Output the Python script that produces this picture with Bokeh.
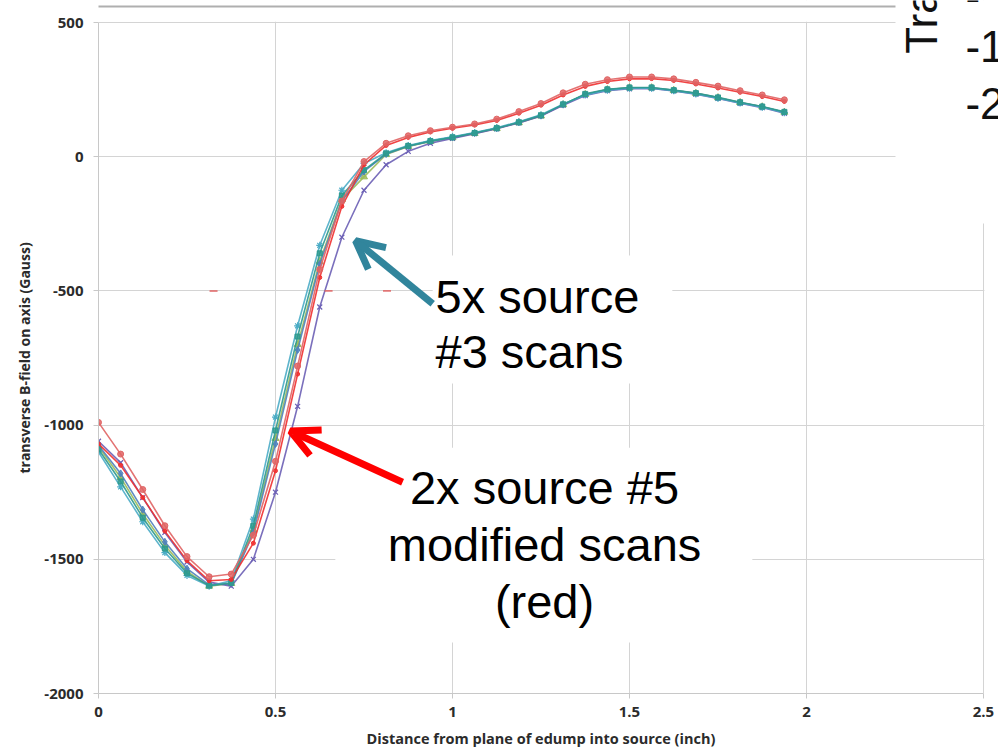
from bokeh.plotting import figure
from bokeh.models import Range1d, FixedTicker, Label, Arrow, OpenHead, BoxAnnotation
from bokeh.embed import file_html
from bokeh.resources import INLINE

# ---------------- data ----------------
x_pos = [0.0, 0.0625, 0.125, 0.1875, 0.25, 0.3125, 0.375, 0.4375,
         0.5, 0.5625, 0.625, 0.6875, 0.75, 0.8125, 0.875, 0.9375,
         1.0, 1.0625, 1.125, 1.1875, 1.25, 1.3125, 1.375, 1.4375,
         1.5, 1.5625, 1.625, 1.6875, 1.75, 1.8125, 1.875, 1.9375]

# source #3 scans (5x)
src3_scan_a = [-1100, -1230, -1360, -1475, -1560, -1600, -1580, -1350, -970, -630, -330, -125, -25, 15, 42, 60,
               74, 90, 108, 130, 156, 196, 230, 248, 255, 255, 246, 234, 218, 200, 184, 164]
src3_scan_b = [-1080, -1195, -1330, -1448, -1545, -1600, -1590, -1390, -1050, -700, -390, -160, -75, 8, 38, 57,
               71, 87, 105, 127, 152, 194, 232, 250, 257, 257, 247, 236, 220, 202, 186, 166]
src3_scan_c = [-1090, -1210, -1345, -1460, -1552, -1598, -1588, -1375, -1020, -670, -360, -145, -50, 12, 40, 58,
               72, 88, 106, 128, 154, 195, 234, 251, 258, 258, 248, 237, 221, 203, 187, 167]
src3_scan_d = [-1060, -1140, -1270, -1400, -1510, -1585, -1600, -1500, -1250, -930, -560, -300, -125, -30, 20, 50,
               68, 86, 104, 126, 152, 192, 228, 246, 253, 254, 245, 233, 217, 199, 183, 162]
src3_scan_e = [-1075, -1180, -1315, -1435, -1535, -1595, -1592, -1400, -1070, -720, -400, -165, -55, 10, 39, 58,
               72, 88, 106, 128, 153, 194, 232, 250, 257, 257, 247, 236, 220, 202, 186, 166]

# source #5 modified scans (2x, red)
src5_scan_a = [-990, -1108, -1240, -1375, -1490, -1565, -1555, -1410, -1135, -780, -420, -165, -18, 50, 78, 97,
               110, 122, 140, 168, 198, 238, 270, 287, 297, 297, 290, 277, 263, 246, 230, 212]
src5_scan_b = [-1070, -1150, -1270, -1395, -1505, -1580, -1575, -1440, -1170, -810, -450, -185, -30, 42, 72, 92,
               106, 118, 135, 162, 192, 230, 262, 280, 290, 291, 284, 271, 256, 240, 224, 206]

# stray points
stray_x = [0.325, 0.65, 0.815]
stray_y = [-500, -500, -500]

x_ticks = [0, 0.5, 1, 1.5, 2, 2.5]
x_tick_labels = ["0", "0.5", "1", "1.5", "2", "2.5"]
y_ticks = [-2000, -1500, -1000, -500, 0, 500]
y_tick_labels = ["-2000", "-1500", "-1000", "-500", "0", "500"]

# ---------------- figure ----------------
# frame spans to the canvas top/right so that the pasted-over elements can be drawn there
p = figure(width=998, height=755, x_range=Range1d(0, 2.5424), y_range=Range1d(-2000, 582),
           output_backend="svg", toolbar_location=None,
           min_border_left=98, min_border_right=0, min_border_top=0, min_border_bottom=62)
p.title.visible = False
p.outline_line_color = None
p.background_fill_color = "white"
p.border_fill_color = "white"

for ax in (p.xaxis[0], p.yaxis[0]):
    ax.axis_line_color = "#C8C8C8"
    ax.major_tick_line_color = "#C8C8C8"
    ax.major_tick_out = 5
    ax.major_tick_in = 0
    ax.minor_tick_line_color = None
    ax.major_label_text_font = "Open Sans"
    ax.major_label_text_font_style = "bold"
    ax.major_label_text_font_size = "15px"
    ax.major_label_text_color = "#2b2b2b"
    ax.axis_label_text_font = "Open Sans"
    ax.axis_label_text_font_style = "bold"
    ax.axis_label_text_font_size = "14px"
    ax.axis_label_text_color = "#2b2b2b"

p.xaxis.axis_label_text_font_size = "14.5px"
p.xaxis.bounds = (0, 2.5)
p.yaxis.bounds = (-2000, 500)
p.xaxis.ticker = FixedTicker(ticks=x_ticks)
p.yaxis.ticker = FixedTicker(ticks=y_ticks)
p.xaxis.major_label_overrides = {t: l for t, l in zip(x_ticks, x_tick_labels)}
p.yaxis.major_label_overrides = {t: l for t, l in zip(y_ticks, y_tick_labels)}
# trailing no-break spaces centre the titles on the chart's own plot area
p.xaxis.axis_label = "Distance from plane of edump into source (inch)" + "\u00a0" * 4
p.yaxis.axis_label = "transverse B-field on axis (Gauss)" + "\u00a0" * 6
p.xaxis.major_label_standoff = 8
p.yaxis.major_label_standoff = 10
p.xaxis.axis_label_standoff = 9
p.yaxis.axis_label_standoff = 7

p.xgrid.grid_line_color = "#D4D4D4"
p.ygrid.grid_line_color = "#D4D4D4"

# ---------------- series ----------------
series = [
    (src3_scan_b, "#9BBB59", "triangle", 7),
    (src3_scan_e, "#4F81BD", "diamond", 7),
    (src3_scan_d, "#6B5FB5", "x", 7),
    (src3_scan_a, "#4BACC6", "asterisk", 7),
    (src3_scan_c, "#2E9A8E", "square", 5),
    (src5_scan_b, "#F03030", "circle", 4),
    (src5_scan_a, "#E06464", "circle", 6),
]
for ys, col, mk, sz in series:
    p.line(x_pos, ys, line_color=col, line_width=1.6, line_alpha=0.9)
    if mk in ("x", "asterisk"):
        p.scatter(x_pos, ys, marker=mk, size=sz, line_color=col, line_width=1.2)
    else:
        p.scatter(x_pos, ys, marker=mk, size=sz, fill_color=col, line_color=col,
                  fill_alpha=0.85)

p.scatter(stray_x, stray_y, marker="dash", size=8, line_color="#E06464", line_width=1.5)

# ---------------- overlays ----------------
white = dict(fill_color="white", fill_alpha=1.0, line_color=None)
# hide grid beyond the chart's own plot area (above 500 and right of 2.5)
p.add_layout(BoxAnnotation(left=-0.1, right=2.7, top=700, bottom=503, **white))
p.add_layout(BoxAnnotation(left=2.5025, right=2.7, top=700, bottom=-2100, **white))
# white text boxes
p.add_layout(BoxAnnotation(left=0.944, right=1.621, top=-368, bottom=-845, **white))
p.add_layout(BoxAnnotation(left=0.669, right=1.847, top=-1084, bottom=-1810, **white))
# pasted-over element at top right
p.add_layout(BoxAnnotation(left=2.2514, right=2.7, top=700, bottom=-249, **white))

# chart-area top border
p.add_layout(BoxAnnotation(left=-0.1, right=2.2514, top=563, bottom=556,
                           fill_color="#AFAFAF", fill_alpha=1.0, line_color=None))

# arrows
p.add_layout(Arrow(end=OpenHead(size=28, line_color="#31859C", line_width=7),
                   x_start=0.944, y_start=-548, x_end=0.726, y_end=-313,
                   line_color="#31859C", line_width=7))
p.add_layout(Arrow(end=OpenHead(size=28, line_color="#FF0000", line_width=7),
                   x_start=0.859, y_start=-1213, x_end=0.542, y_end=-1022,
                   line_color="#FF0000", line_width=7))

big = dict(text_font="Liberation Sans", text_font_size="47px", text_color="black",
           text_baseline="alphabetic")
p.add_layout(Label(x=0.952, y=-519, text="5x source", text_align="left", **big))
p.add_layout(Label(x=0.952, y=-724, text="#3 scans", text_align="left", **big))
p.add_layout(Label(x=1.260, y=-1232, text="2x source #5", text_align="center", **big))
p.add_layout(Label(x=1.260, y=-1444, text="modified scans", text_align="center", **big))
p.add_layout(Label(x=1.260, y=-1657, text="(red)", text_align="center", **big))

# partial overlay of another slide element (top right)
ov = dict(text_font="Liberation Sans", text_font_size="44px", text_color="#111111",
          text_baseline="alphabetic")
p.add_layout(Label(x=2.325, y=384, text="Tra", angle=1.5708, text_align="left", **ov))
p.add_layout(Label(x=2.449, y=597, text="-", text_align="left", **ov))
p.add_layout(Label(x=2.449, y=410, text="-1", text_align="left", **ov))
p.add_layout(Label(x=2.449, y=197, text="-2", text_align="left", **ov))

open("out.html", "w").write(file_html(p, INLINE))
